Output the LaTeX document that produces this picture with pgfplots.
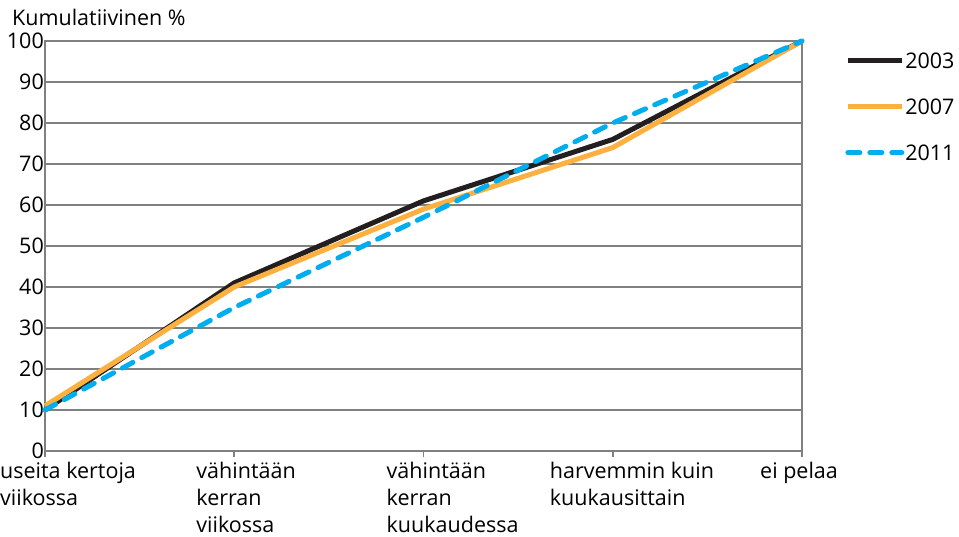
\documentclass[border=0pt]{standalone}
\usepackage{pgfplots}
\pgfplotsset{compat=1.18}
\usepackage{fontspec}
\setmainfont{Open Sans}
\definecolor{c03}{HTML}{231F20}
\definecolor{c07}{HTML}{FBB040}
\definecolor{c11}{HTML}{00AEEF}
\definecolor{gridc}{HTML}{808080}
\begin{document}
\begin{tikzpicture}
\useasboundingbox (-45bp,-86bp) rectangle (914bp,451bp);
\begin{axis}[
  at={(0,0)}, anchor=south west,
  width=757bp, height=410bp, scale only axis,
  xmin=0, xmax=4, ymin=0, ymax=100,
  xtick={0,1,2,3,4},
  xticklabels={useita kertoja\\viikossa, vähintään\\kerran\\viikossa, vähintään\\kerran\\kuukaudessa, harvemmin kuin\\kuukausittain, ei pelaa},
  ytick={0,10,...,100},
  xtick pos=bottom, ytick pos=left,
  ymajorgrids,
  major grid style={gridc, line width=1.5bp},
  axis line style={gridc, line width=1.5bp},
  xtick style={gridc, line width=1.5bp},
  ytick style={draw=none},
  tick align=outside, major tick length=6bp,
  xticklabel style={anchor=north west, align=left, inner sep=0pt, font=\fontsize{21.5bp}{27bp}\selectfont, xshift={{-45,-38,-37,-63,-42}[\ticknum]*1bp}, yshift=-5bp},
  yticklabel style={font=\fontsize{21.5bp}{24bp}\selectfont, inner sep=0pt, xshift=5bp},
  /pgf/number format/assume math mode=true,
  legend style={at={(1.057,0.973)}, anchor=north west, draw=none, fill=none, inner sep=0pt, row sep=29bp, font=\fontsize{21.5bp}{24bp}\selectfont, nodes={inner sep=1bp, text height=15bp, text depth=0bp}},
  legend cell align=left,
  legend image code/.code={\draw[#1] (0bp,0bp) -- (54bp,0bp);},
  clip=false,
]
\addplot[c03, line width=5bp] coordinates {(0,10) (1,41) (2,61) (3,76) (4,100)};
\addplot[c07, line width=5bp] coordinates {(0,11) (1,40) (2,59) (3,74) (4,100)};
\addplot[c11, line width=5bp, dash pattern=on 12bp off 10bp, line cap=round] coordinates {(0,10) (1,35) (2,57) (3,80) (4,100)};
\legend{2003,2007,2011}
\end{axis}
\node[anchor=west, inner sep=0pt, font=\fontsize{21.5bp}{24bp}\selectfont] at (-33bp,434bp) {Kumulatiivinen \%};
\end{tikzpicture}
\end{document}
